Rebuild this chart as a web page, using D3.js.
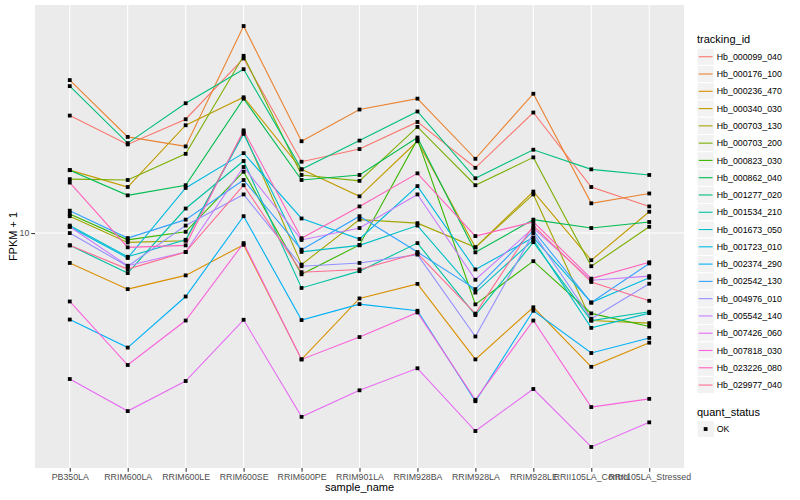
<!DOCTYPE html>
<html><head><meta charset="utf-8">
<script src="https://cdn.jsdelivr.net/npm/d3@7/dist/d3.min.js"></script>
<style>body{margin:0;background:#fff}text{font-family:"Liberation Sans",Arial,sans-serif}</style>
</head><body>
<svg id="chart" width="800" height="500"></svg>
<script>
// ---- data ----
const samples = ["PB350LA","RRIM600LA","RRIM600LE","RRIM600SE","RRIM600PE","RRIM901LA","RRIM928BA","RRIM928LA","RRIM928LE","RRII105LA_Control","RRII105LA_Stressed"];
const trackingIds = ["Hb_000099_040","Hb_000176_100","Hb_000236_470","Hb_000340_030","Hb_000703_130","Hb_000703_200","Hb_000823_030","Hb_000862_040","Hb_001277_020","Hb_001534_210","Hb_001673_050","Hb_001723_010","Hb_002374_290","Hb_002542_130","Hb_004976_010","Hb_005542_140","Hb_007426_060","Hb_007818_030","Hb_023226_080","Hb_029977_040"];
const hb_000099_040 = [24.9, 19.9, 24.2, 38.8, 17.4, 19.2, 23.7, 16.6, 25.5, 14.3, 12.3];
const hb_000176_100 = [32.8, 21.1, 19.6, 49.9, 20.4, 26.1, 28.4, 17.8, 29.5, 12.6, 13.6];
const hb_000236_470 = [7.93, 6.47, 7.20, 9.13, 3.75, 6.02, 6.74, 3.75, 5.62, 3.54, 4.27];
const hb_000340_030 = [16.3, 14.3, 23.1, 28.7, 16.4, 13.3, 20.4, 8.95, 13.8, 8.10, 11.8];
const hb_000703_130 = [11.4, 9.30, 9.42, 21.9, 7.83, 11.1, 10.8, 8.95, 13.5, 5.07, 4.97];
const hb_000703_200 = [15.2, 15.1, 18.5, 39.6, 15.7, 15.0, 22.8, 14.5, 18.0, 7.73, 10.5];
const hb_000823_030 = [11.6, 9.49, 10.1, 16.1, 7.26, 9.12, 20.7, 5.75, 8.04, 5.36, 4.84];
const hb_000862_040 = [16.3, 13.4, 14.5, 28.4, 15.1, 15.7, 21.0, 8.61, 11.1, 10.4, 10.9];
const hb_001277_020 = [31.3, 20.1, 27.4, 35.7, 16.4, 20.5, 25.7, 15.3, 19.1, 16.4, 15.7];
const hb_001534_210 = [9.09, 7.33, 12.1, 17.5, 6.53, 7.44, 9.25, 5.29, 9.32, 5.07, 5.43];
const hb_001673_050 = [10.6, 8.32, 9.49, 21.6, 8.64, 9.09, 10.6, 6.30, 9.49, 4.79, 5.37];
const hb_001723_010 = [10.5, 8.24, 14.2, 18.6, 11.2, 9.55, 14.4, 7.54, 9.66, 5.83, 7.07];
const hb_002374_290 = [5.11, 4.11, 6.11, 11.4, 5.09, 5.76, 5.47, 2.71, 5.47, 3.94, 4.43];
const hb_002542_130 = [11.9, 9.62, 11.1, 15.1, 8.79, 11.4, 8.63, 6.47, 10.2, 5.83, 7.90];
const hb_004976_010 = [10.0, 7.73, 10.6, 13.5, 7.73, 7.93, 8.46, 4.48, 10.0, 5.14, 6.75];
const hb_005542_140 = [10.5, 7.76, 8.63, 16.7, 9.48, 10.4, 13.5, 6.96, 10.4, 6.93, 7.16];
const hb_007426_060 = [3.22, 2.51, 3.17, 5.10, 2.40, 2.95, 3.50, 2.15, 2.98, 1.90, 2.30];
const hb_007818_030 = [5.88, 3.59, 5.07, 9.25, 3.75, 4.46, 5.40, 2.74, 5.07, 2.59, 2.76];
const hb_023226_080 = [14.8, 8.95, 9.09, 22.2, 9.61, 12.3, 15.9, 9.77, 10.9, 7.02, 7.97];
const hb_029977_040 = [9.09, 7.56, 8.63, 14.5, 7.38, 7.54, 8.54, 5.35, 10.6, 6.84, 5.91];
const yTicks = [10];
const quantStatus = ["OK"];

// ---- styling ----
const palette = ["#F8766D","#EA8331","#D89000","#C09B00","#A3A500","#7CAE00","#39B600","#00BB4E","#00BF7D","#00C1A3","#00BFC4","#00BAE0","#00B0F6","#35A2FF","#9590FF","#C77CFF","#E76BF3","#FA62DB","#FF62BC","#FF6C91"];
const valueArrays = [hb_000099_040,hb_000176_100,hb_000236_470,hb_000340_030,hb_000703_130,hb_000703_200,hb_000823_030,hb_000862_040,hb_001277_020,hb_001534_210,hb_001673_050,hb_001723_010,hb_002374_290,hb_002542_130,hb_004976_010,hb_005542_140,hb_007426_060,hb_007818_030,hb_023226_080,hb_029977_040];
const series = trackingIds.map((id,i)=>({id, color: palette[i], values: valueArrays[i].map((v,j)=>({s: samples[j], v}))}));

const P = {l:35, r:684, t:5, b:468};
const svg = d3.select("#chart");
svg.append("rect").attr("width",800).attr("height",500).attr("fill","#fff");
svg.append("rect").attr("x",P.l).attr("y",P.t).attr("width",P.r-P.l).attr("height",P.b-P.t).attr("fill","#EBEBEB");

const x = d3.scalePoint().domain(samples).range([P.l,P.r]).padding(0.6);
const all = series.flatMap(s=>s.values.map(d=>d.v));
const lo = Math.log10(d3.min(all)), hi = Math.log10(d3.max(all));
const pad = (hi-lo)*0.05;
const y = d3.scaleLog().domain([10**(lo-pad), 10**(hi+pad)]).range([P.b,P.t]);

// grid
const grid = svg.append("g");
grid.selectAll("line.gx").data(samples).join("line")
  .attr("x1",d=>x(d)).attr("x2",d=>x(d)).attr("y1",P.t).attr("y2",P.b)
  .attr("stroke","#fff").attr("stroke-width",1.07);
grid.selectAll("line.gy").data(yTicks).join("line")
  .attr("x1",P.l).attr("x2",P.r).attr("y1",d=>y(d)).attr("y2",d=>y(d))
  .attr("stroke","#fff").attr("stroke-width",1.07);

// lines
const line = d3.line().x(d=>x(d.s)).y(d=>y(d.v));
svg.append("g").selectAll("path").data(series).join("path")
  .attr("d",d=>line(d.values)).attr("fill","none")
  .attr("stroke",d=>d.color).attr("stroke-width",1.1);

// points
const pts = series.flatMap(s=>s.values);
svg.append("g").selectAll("rect").data(pts).join("rect")
  .attr("x",d=>x(d.s)-1.9).attr("y",d=>y(d.v)-1.9).attr("width",3.8).attr("height",3.8)
  .attr("fill","#000");

// axes
const xAxis = svg.append("g").attr("transform",`translate(0,${P.b})`)
  .call(d3.axisBottom(x).tickSize(3.7).tickPadding(2));
const yAxis = svg.append("g").attr("transform",`translate(${P.l},0)`)
  .call(d3.axisLeft(y).tickValues(yTicks).tickFormat(d3.format("d")).tickSize(3.7).tickPadding(2));
[xAxis,yAxis].forEach(a=>{
  a.select(".domain").remove();
  a.selectAll(".tick line").attr("stroke","#333333").attr("stroke-width",1.07);
  a.selectAll(".tick text").attr("fill","#4D4D4D").style("font-size","8.8px").style("font-family",'"Liberation Sans",Arial,sans-serif');
});

svg.append("text").attr("x",(P.l+P.r)/2).attr("y",491).attr("text-anchor","middle")
  .style("font-size","11px").attr("fill","#000").text("sample_name");
svg.append("text").attr("transform",`translate(17,${(P.t+P.b)/2}) rotate(-90)`).attr("text-anchor","middle")
  .style("font-size","11px").attr("fill","#000").text("FPKM + 1");

// legend
const lg = svg.append("g");
const kx = 697, ks = 17.28, k0 = 48.1;
lg.append("text").attr("x",kx).attr("y",43).style("font-size","11px").attr("fill","#000").text("tracking_id");
const items = lg.selectAll("g.item").data(series).join("g").attr("transform",(d,i)=>`translate(${kx},${k0+i*ks})`);
items.append("rect").attr("width",ks).attr("height",ks).attr("fill","#F2F2F2").attr("stroke","#fff").attr("stroke-width",1);
items.append("line").attr("x1",1.7).attr("x2",ks-1.7).attr("y1",ks/2).attr("y2",ks/2).attr("stroke",d=>d.color).attr("stroke-width",1.1);
items.append("text").attr("x",ks+2.5).attr("y",ks/2+3.1).style("font-size","8.8px").attr("fill","#000").text(d=>d.id);

lg.append("text").attr("x",kx).attr("y",415.5).style("font-size","11px").attr("fill","#000").text("quant_status");
const q = lg.selectAll("g.q").data(quantStatus).join("g").attr("transform",(d,i)=>`translate(${kx},${420.4+i*ks})`);
q.append("rect").attr("width",ks).attr("height",ks).attr("fill","#F2F2F2").attr("stroke","#fff");
q.append("rect").attr("x",ks/2-1.9).attr("y",ks/2-1.9).attr("width",3.8).attr("height",3.8).attr("fill","#000");
q.append("text").attr("x",ks+2.5).attr("y",ks/2+3.1).style("font-size","8.8px").attr("fill","#000").text(d=>d);
</script>
</body></html>
